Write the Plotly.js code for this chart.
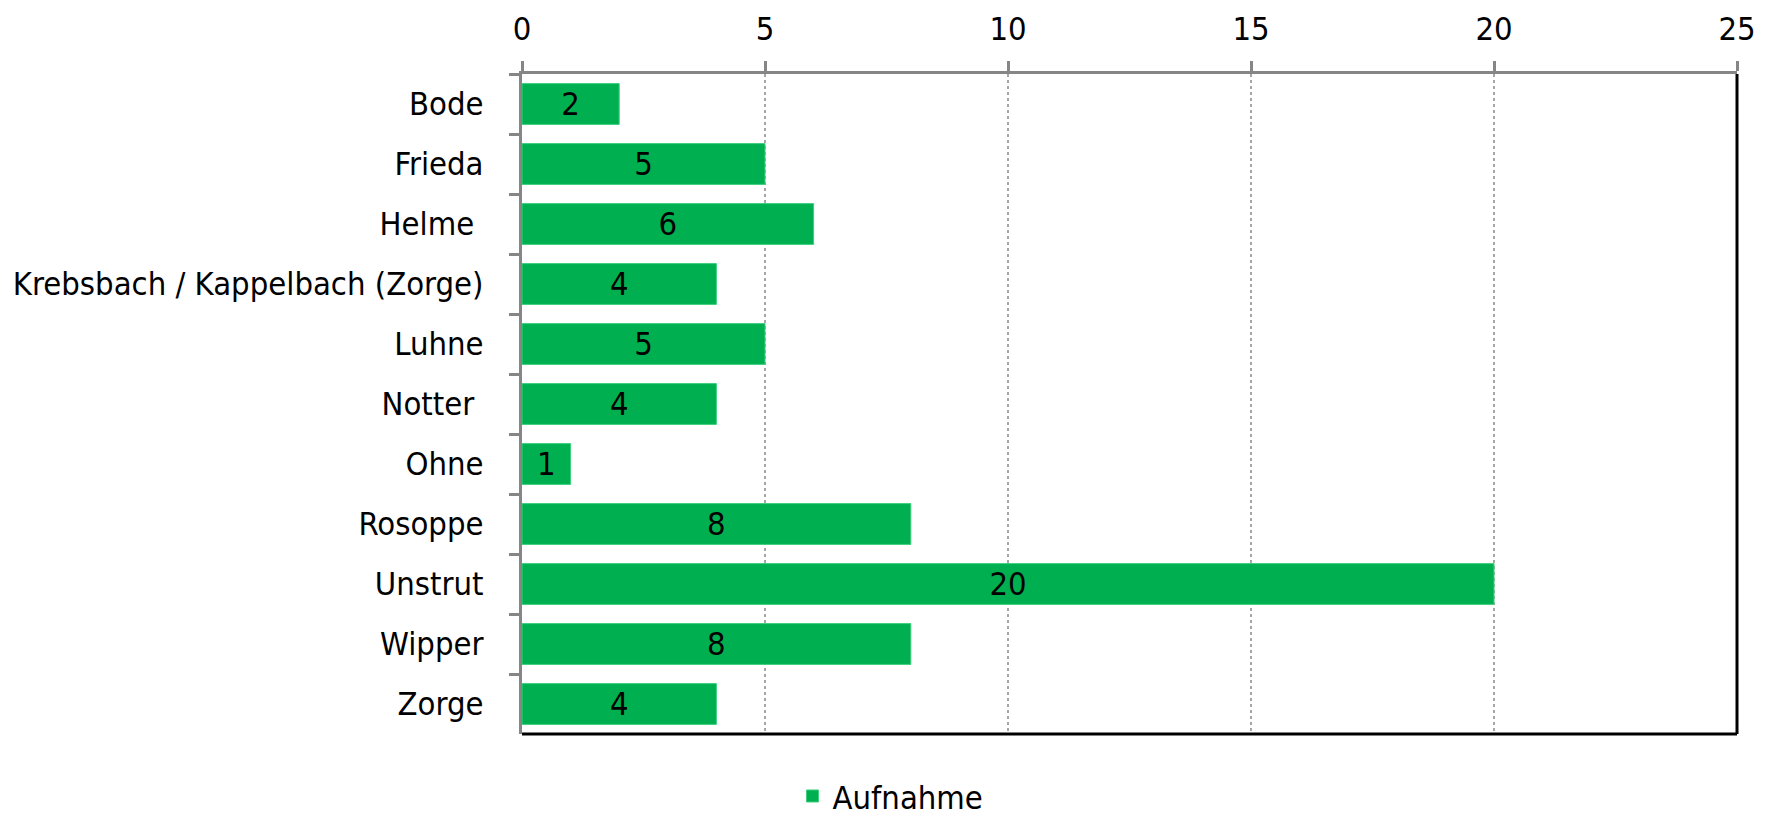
<!DOCTYPE html>
<html>
<head>
<meta charset="utf-8">
<script src="https://cdn.plot.ly/plotly-3.0.1.min.js"></script>
<style>html,body{margin:0;padding:0;background:#fff;}#chart{width:1773px;height:821px;}</style>
</head>
<body>
<div id="chart"></div>
<script>
const categories = ["Bode", "Frieda", "Helme ", "Krebsbach / Kappelbach (Zorge)", "Luhne", "Notter ", "Ohne", "Rosoppe", "Unstrut", "Wipper", "Zorge"];
const values = [2, 5, 6, 4, 5, 4, 1, 8, 20, 8, 4];
const seriesName = "Aufnahme";
const xTicks = [0, 5, 10, 15, 20, 25];

const FONT = '"DejaVu Sans Condensed", sans-serif';
const FS = 32.5;

const trace = {
  type: 'bar',
  orientation: 'h',
  name: seriesName,
  x: values,
  y: categories,
  text: values.map(String),
  textposition: 'inside',
  insidetextanchor: 'middle',
  textangle: 0,
  constraintext: 'none',
  textfont: {family: FONT, size: FS, color: '#000'},
  marker: {color: '#00B050', line: {color: '#3ccf7d', width: 1}},
  hoverinfo: 'skip'
};

const layout = {
  width: 1773, height: 821,
  margin: {l: 522, r: 36, t: 74, b: 87},
  paper_bgcolor: '#fff', plot_bgcolor: '#fff',
  font: {family: FONT, size: FS, color: '#000'},
  bargap: 0.32,
  showlegend: true,
  legend: {orientation: 'h', xref: 'container', yref: 'container', x: 0.447, xanchor: 'left', y: 0.03, yanchor: 'middle',
           itemwidth: 30, font: {family: FONT, size: FS, color: '#000'}},
  xaxis: {
    side: 'top', range: [0, 25], tickvals: xTicks, ticktext: xTicks.map(String),
    showline: true, linecolor: '#868686', linewidth: 3,
    ticks: 'outside', ticklen: 10, tickwidth: 3, tickcolor: '#868686',
    ticklabelstandoff: 8,
    showgrid: true, gridcolor: '#a6a6a6', gridwidth: 2, griddash: 'dot',
    zeroline: false, fixedrange: true
  },
  yaxis: {
    type: 'category', autorange: 'reversed',
    showline: true, linecolor: '#868686', linewidth: 3,
    ticks: 'outside', tickson: 'boundaries', ticklen: 10, tickwidth: 3, tickcolor: '#868686',
    ticklabelstandoff: 29,
    showgrid: false, zeroline: false, fixedrange: true
  },
  shapes: [
    {type: 'line', xref: 'x domain', yref: 'y domain', x0: 0, x1: 1, y0: 0, y1: 0, line: {color: '#000', width: 3}},
    {type: 'line', xref: 'x domain', yref: 'y domain', x0: 1, x1: 1, y0: 0, y1: 1, line: {color: '#000', width: 3}}
  ]
};

Plotly.newPlot('chart', [trace], layout, {displayModeBar: false, staticPlot: true});
</script>
</body>
</html>
